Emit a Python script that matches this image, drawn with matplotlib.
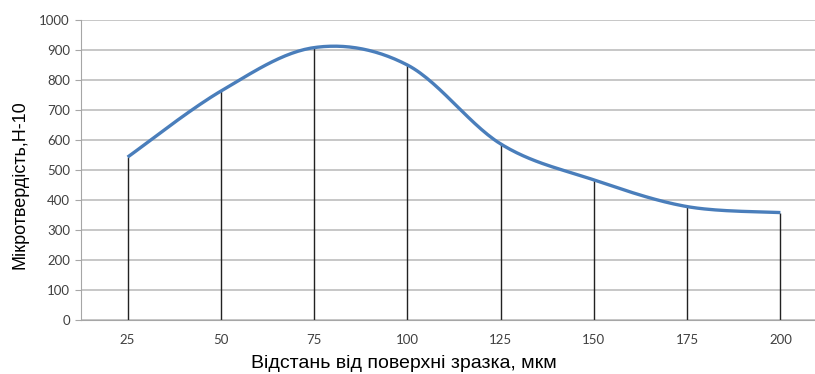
import numpy as np
import matplotlib
matplotlib.use("Agg")
import matplotlib.pyplot as plt

categories = ["25", "50", "75", "100", "125", "150", "175", "200"]
hardness = [543, 763, 908, 850, 587, 467, 378, 358]
y_ticks = [0, 100, 200, 300, 400, 500, 600, 700, 800, 900, 1000]

W, H = 815, 374
fig = plt.figure(figsize=(W / 100, H / 100), dpi=100)
left, right, top, bottom = 81, 827, 20, 320
ax = fig.add_axes([left / W, 1 - bottom / H, (right - left) / W, (bottom - top) / H])

x = np.arange(len(categories), dtype=float)
y = np.array(hardness, dtype=float)

# Excel-like smoothed line (Catmull-Rom Bezier)
px = np.concatenate([[x[0]], x, [x[-1]]])
py = np.concatenate([[y[0]], y, [y[-1]]])
cx, cy = [], []
t = np.linspace(0, 1, 30)
for i in range(1, len(px) - 2):
    p0 = np.array([px[i], py[i]])
    p3 = np.array([px[i + 1], py[i + 1]])
    p1 = p0 + (np.array([px[i + 1], py[i + 1]]) - np.array([px[i - 1], py[i - 1]])) / 6
    p2 = p3 - (np.array([px[i + 2], py[i + 2]]) - np.array([px[i], py[i]])) / 6
    b = ((1 - t) ** 3)[:, None] * p0 + (3 * (1 - t) ** 2 * t)[:, None] * p1 + \
        (3 * (1 - t) * t ** 2)[:, None] * p2 + (t ** 3)[:, None] * p3
    cx.extend(b[:, 0]); cy.extend(b[:, 1])

ax.vlines(x, 0, y, colors="#222222", linewidth=1.0, zorder=2)
ax.plot(cx, cy, color="#4A7EBB", linewidth=2.4, solid_capstyle="butt", zorder=3)

ax.set_xlim(-0.5, len(categories) - 0.5)
ax.set_ylim(0, 1000)
ax.set_yticks(y_ticks)
ax.set_xticks(x)
ax.set_xticklabels(categories)
ax.grid(axis="y", color="#BDBDBD", linewidth=1.2)
ax.set_axisbelow(True)
for s in ["top", "right"]:
    ax.spines[s].set_visible(False)
ax.spines["left"].set_color("#A6A6A6")
ax.spines["bottom"].set_color("#A6A6A6")
ax.tick_params(axis="y", length=4, color="#A6A6A6", labelsize=9.5, labelcolor="#404040", pad=4)
ax.tick_params(axis="x", length=0, labelsize=9.5, labelcolor="#404040", pad=10)
for lab in ax.get_xticklabels() + ax.get_yticklabels():
    lab.set_family("Lato")

fig.text(20 / W, 1 - 185 / H, "Мікротвердість,Н-10", rotation=90, ha="center", va="center",
         fontsize=13, family="Liberation Sans")
fig.text(404 / W, 1 - 364 / H, "Відстань від поверхні зразка, мкм", ha="center", va="center",
         fontsize=14, family="Liberation Sans")

fig.savefig("out.png", dpi=100)
